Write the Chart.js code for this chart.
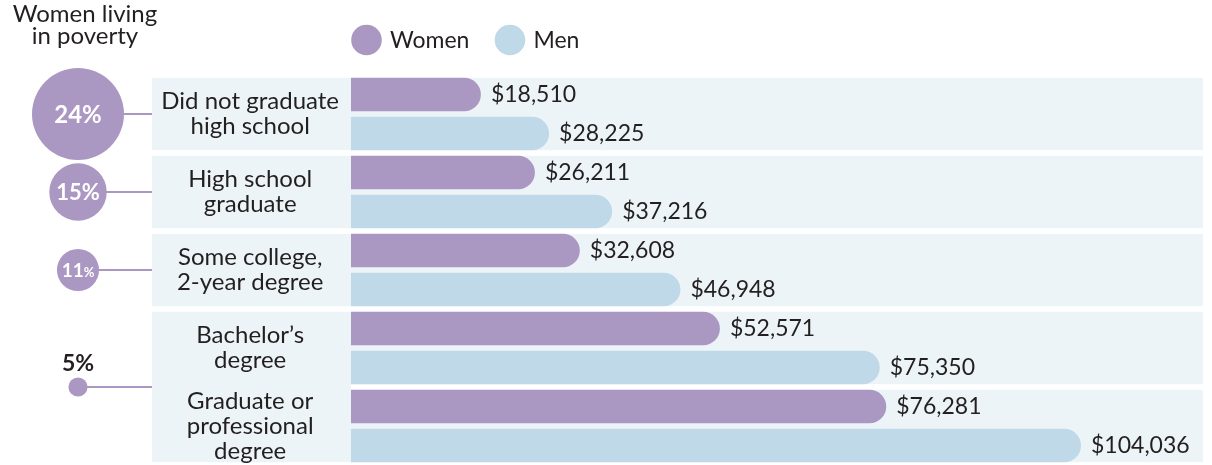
<!DOCTYPE html>
<html>
<head>
<meta charset="utf-8">
<script src="https://cdn.jsdelivr.net/npm/chart.js@4"></script>
<style>
  html, body { margin: 0; padding: 0; background: #ffffff; }
  #wrap { width: 1212px; height: 465px; position: relative; }
  canvas { display: block; }
</style>
</head>
<body>
<div id="wrap"><canvas id="chart" width="1212" height="465"></canvas></div>
<script>
// ---------- data ----------
const categories = [
  ["Did not graduate", "high school"],
  ["High school", "graduate"],
  ["Some college,", "2-year degree"],
  ["Bachelor’s", "degree"],
  ["Graduate or", "professional", "degree"]
];
const seriesNames = ["Women", "Men"];
const womenEarnings = [18510, 26211, 32608, 52571, 76281];
const menEarnings = [28225, 37216, 46948, 75350, 104036];
const povertyRates = [24, 15, 11, 5];
const povertyLabels = ["24%", "15%", "11%", "5%"];
const povertyGroups = [[0], [1], [2], [3, 4]];
const titleLines = ["Women living", "in poverty"];

// ---------- styles ----------
const WOMEN = "#ab98c2";
const MEN = "#c0d9e8";
const PANEL = "#ecf4f8";
const TEXT = "#231f20";
const FONT = "Lato, 'Noto Sans', sans-serif";
const BAR_PCT = 0.856;
const LABEL_AREA = 199;
const CIRCLE_X = 78;
const RADIUS_PER_POINT = 46 / 24;

function bandInfo(chart) {
  const y = chart.scales.y;
  const c0 = y.getPixelForValue(0), c1 = y.getPixelForValue(1);
  const half = Math.abs(c1 - c0) / 2;
  const slot = half; // two bars per category
  const inset = slot * (1 - BAR_PCT) / 2;
  return { y, half, inset };
}

const panelsPlugin = {
  id: "panels",
  beforeDraw(chart) {
    const ctx = chart.ctx, ca = chart.chartArea;
    const { y, half, inset } = bandInfo(chart);
    ctx.save();
    ctx.fillStyle = PANEL;
    categories.forEach((_, i) => {
      const c = y.getPixelForValue(i);
      const top = c - half + inset, bot = c + half - inset;
      ctx.fillRect(ca.left, top, ca.right - ca.left, bot - top);
    });
    povertyGroups.forEach(g => {
      const top = y.getPixelForValue(g[0]) - half + inset;
      const bot = y.getPixelForValue(g[g.length - 1]) + half - inset;
      ctx.fillRect(y.left, top, ca.left - y.left, bot - top);
    });
    ctx.restore();
  }
};

const valueLabelsPlugin = {
  id: "valueLabels",
  afterDatasetsDraw(chart) {
    const ctx = chart.ctx;
    ctx.save();
    ctx.font = "23px " + FONT;
    ctx.fillStyle = TEXT;
    ctx.textAlign = "left";
    ctx.textBaseline = "middle";
    chart.data.datasets.forEach((ds, di) => {
      const meta = chart.getDatasetMeta(di);
      meta.data.forEach((bar, i) => {
        const v = ds.data[i];
        ctx.fillText("$" + v.toLocaleString("en-US"), bar.x + 10, bar.y);
      });
    });
    ctx.restore();
  }
};

const decorPlugin = {
  id: "decor",
  afterDraw(chart) {
    const ctx = chart.ctx, ca = chart.chartArea;
    const { y } = bandInfo(chart);
    ctx.save();
    // title
    ctx.fillStyle = TEXT;
    ctx.font = "24px " + FONT;
    ctx.textAlign = "center";
    ctx.textBaseline = "alphabetic";
    titleLines.forEach((t, i) => ctx.fillText(t, 85, 22 + i * 22));

    // legend
    ctx.font = "23px " + FONT;
    ctx.textAlign = "left";
    ctx.textBaseline = "middle";
    let lx = ca.left;
    const ly = 40;
    chart.data.datasets.forEach((ds) => {
      ctx.fillStyle = ds.backgroundColor;
      ctx.beginPath();
      ctx.arc(lx + 15.5, ly, 15.3, 0, Math.PI * 2);
      ctx.fill();
      ctx.fillStyle = TEXT;
      ctx.fillText(ds.label, lx + 39, ly + 1);
      lx += 39 + ctx.measureText(ds.label).width + 25;
    });

    // poverty circles
    povertyGroups.forEach((g, i) => {
      const cy = g.reduce((s, k) => s + y.getPixelForValue(k), 0) / g.length;
      const r = povertyRates[i] * RADIUS_PER_POINT;
      ctx.strokeStyle = WOMEN;
      ctx.lineWidth = 2;
      ctx.beginPath();
      ctx.moveTo(CIRCLE_X + r - 1, cy);
      ctx.lineTo(y.left, cy);
      ctx.stroke();
      ctx.fillStyle = WOMEN;
      ctx.beginPath();
      ctx.arc(CIRCLE_X, cy, r, 0, Math.PI * 2);
      ctx.fill();
      const label = povertyLabels[i];
      const num = label.replace("%", "");
      if (r >= 15) {
        const ds = r > 40 ? 24 : (r > 25 ? 22 : 19);
        const ps = r > 25 ? ds : 13;
        ctx.fillStyle = "#ffffff";
        ctx.font = "bold " + ds + "px " + FONT;
        const wn = ctx.measureText(num).width;
        ctx.font = "bold " + ps + "px " + FONT;
        const wp = ctx.measureText("%").width;
        const x0 = CIRCLE_X - (wn + wp) / 2;
        const base = cy + ds * 0.36;
        ctx.textAlign = "left";
        ctx.textBaseline = "alphabetic";
        ctx.font = "bold " + ds + "px " + FONT;
        ctx.fillText(num, x0, base);
        ctx.font = "bold " + ps + "px " + FONT;
        ctx.fillText("%", x0 + wn, base);
      } else {
        ctx.fillStyle = TEXT;
        ctx.font = "bold 23px " + FONT;
        ctx.textAlign = "center";
        ctx.textBaseline = "alphabetic";
        ctx.fillText(label, CIRCLE_X, cy - r - 6);
      }
    });
    ctx.restore();
  }
};

new Chart(document.getElementById("chart"), {
  type: "bar",
  data: {
    labels: categories,
    datasets: [
      { label: seriesNames[0], data: womenEarnings, backgroundColor: WOMEN },
      { label: seriesNames[1], data: menEarnings, backgroundColor: MEN }
    ]
  },
  options: {
    indexAxis: "y",
    responsive: false,
    animation: false,
    devicePixelRatio: 1,
    layout: { padding: { top: 75, left: 152, right: 9, bottom: 0 } },
    datasets: {
      bar: {
        categoryPercentage: 1,
        barPercentage: BAR_PCT,
        borderRadius: 17,
        borderSkipped: "start",
        inflateAmount: 0
      }
    },
    plugins: {
      legend: { display: false },
      tooltip: { enabled: false },
      title: { display: false }
    },
    scales: {
      x: { display: false, min: 0, max: 121420 },
      y: {
        grid: { display: false, drawTicks: false },
        border: { display: false },
        ticks: {
          autoSkip: false,
          crossAlign: "center",
          padding: 12,
          color: TEXT,
          font: { family: FONT, size: 24, lineHeight: 1.05 }
        },
        afterFit(scale) {
          scale.width = LABEL_AREA;
          scale.paddingTop = 0;
          scale.paddingBottom = 0;
        }
      }
    }
  },
  plugins: [panelsPlugin, valueLabelsPlugin, decorPlugin]
});
</script>
</body>
</html>
